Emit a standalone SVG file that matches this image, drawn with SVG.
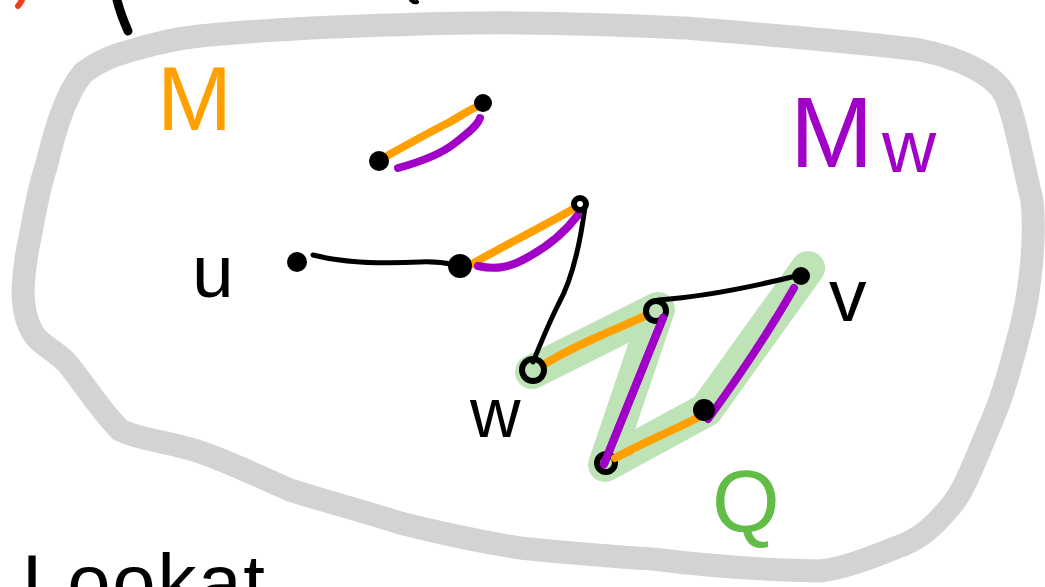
<svg xmlns="http://www.w3.org/2000/svg" width="1045" height="587" viewBox="0 0 1045 587">
<style>
.blob{fill:none;stroke:#d3d3d3;stroke-width:23;stroke-linejoin:round;stroke-linecap:round}
.hl{fill:none;stroke:#bee3b6;stroke-width:34;stroke-linejoin:round;stroke-linecap:round}
.blk{fill:none;stroke:#000;stroke-width:5;stroke-linecap:round}
.org{fill:none;stroke:#ffa000;stroke-width:8;stroke-linecap:round}
.pur{fill:none;stroke:#a100c6;stroke-width:8;stroke-linecap:round}
.dot{fill:#000}
.ring{fill:none;stroke:#000;stroke-width:6}
.lbl{font-family:"Liberation Sans","DejaVu Sans",sans-serif}
</style>
<rect width="1045" height="587" fill="#fff"/>
<!-- cut-off fragments at top -->
<path d="M22,0 Q20,4 18,6" fill="none" stroke="#f03c1e" stroke-width="6" stroke-linecap="round"/>
<path d="M117,0 C120,12 124,22 128,31" fill="none" stroke="#000" stroke-width="9" stroke-linecap="round"/>
<path d="M411,0 Q414,3 417,2" fill="none" stroke="#000" stroke-width="4" stroke-linecap="round"/>
<!-- region outline -->
<path id="region" class="blob" d="M83,73 C100,60 115,55 133,50 C160,42 180,38 200,36 C250,31 290,29 333,27 C420,24 470,22 520,23 C600,24 640,26 687,28 C780,36 860,42 920,50 C960,58 995,75 1005,95 C1015,115 1022,160 1032,200 C1036,240 1030,290 1022,323 C1010,370 1003,395 991,423 C975,460 965,490 950,507 C935,525 920,540 895,548 C870,558 845,568 820,571 C760,570 700,565 653,559 C600,556 560,552 520,548 C470,540 440,533 400,523 C360,510 320,500 290,490 C255,475 230,462 200,452 C170,442 140,440 120,430 C100,410 85,385 67,363 C55,350 40,345 33,333 C25,320 23,305 23,290 C24,265 27,250 31,233 C35,210 40,185 46,167 C55,130 65,95 83,73 Z"/>
<!-- highlighted path Q -->
<polyline id="Q-path" class="hl" points="532,372 658,309 605,465 706,410 808,268"/>
<g id="connectors">
  <path class="blk" d="M313,255 C340,262 380,264 420,262 C440,261 450,264 460,266"/>
  <path class="blk" d="M585,207 C580,245 572,280 558,305 C548,325 540,345 533,362"/>
  <path class="blk" d="M658,300 C700,297 740,290 800,275"/>
  <path class="org" d="M385,157 C410,143 430,132 450,122 C462,115 472,108 481,105"/>
  <path class="pur" d="M398,168 C420,162 440,155 455,143 C468,133 478,125 480,118"/>
  <path class="org" d="M472,264 C500,248 540,228 575,208"/>
  <path class="pur" d="M478,266 C495,270 510,268 530,256 C550,245 565,232 578,215"/>
  <path class="org" d="M543,365 C575,345 610,332 645,316"/>
  <path class="org" d="M615,458 C640,444 670,432 697,418"/>
  <path class="pur" d="M663,318 L604,464"/>
  <path class="pur" d="M794,288 C770,330 740,375 708,419" stroke-width="9"/>
</g>
<g id="node-a1"><circle class="dot" cx="379" cy="161" r="10"/></g>
<g id="node-a2"><circle class="dot" cx="483" cy="103" r="9"/></g>
<g id="node-u"><circle class="dot" cx="297" cy="262" r="10"/><text class="lbl" x="192" y="297" font-size="75" fill="#000">u</text></g>
<g id="node-b1"><circle class="dot" cx="460" cy="266" r="12"/></g>
<g id="node-b2"><circle class="ring" cx="580" cy="204" r="6" stroke-width="5"/></g>
<g id="node-w"><circle class="ring" cx="533" cy="370" r="11" stroke-width="7"/><text class="lbl" x="470" y="437" font-size="70" fill="#000">w</text></g>
<g id="node-c1"><circle class="ring" cx="656" cy="311" r="10"/></g>
<g id="node-v"><circle class="dot" cx="801" cy="276" r="9"/><text class="lbl" x="829" y="321" font-size="75" fill="#000">v</text></g>
<g id="node-c2"><circle class="dot" cx="704" cy="410" r="11"/></g>
<g id="node-c3"><circle class="ring" cx="606" cy="463" r="9"/></g>
<!-- re-draw coloured edge ends over nodes -->
<g id="connectors-top">
  <path class="pur" d="M663,318 L604,464"/>
  <path class="org" d="M615,458 L630,451"/>
</g>
<g id="labels">
  <text id="label-M" class="lbl" x="157" y="130" font-size="90" fill="#ffa000">M</text>
  <text id="label-Mw" class="lbl" x="790" y="167" font-size="100" fill="#a100c6">M<tspan x="882" y="172" font-size="75">w</tspan></text>
  <text id="label-Q" class="lbl" x="712" y="532" font-size="87" fill="#63bc46">Q</text>
  <text id="label-lookat" class="lbl" x="22" y="609" font-size="78" fill="#000" textLength="243" lengthAdjust="spacing">Lookat</text>
</g>
</svg>
